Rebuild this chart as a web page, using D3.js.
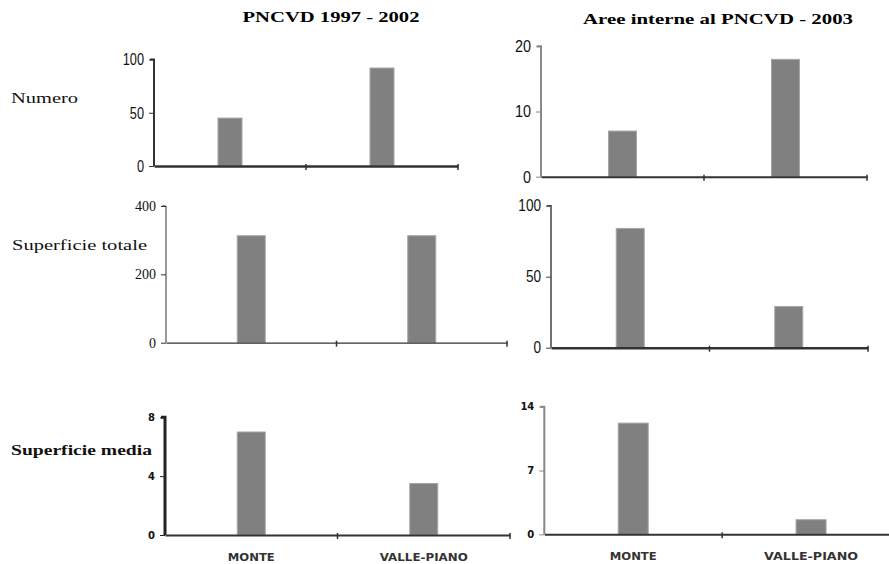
<!DOCTYPE html>
<html>
<head>
<meta charset="utf-8">
<script src="https://cdn.jsdelivr.net/npm/d3@7"></script>
<style>
  body { margin: 0; background: #fff; }
  svg { display: block; }
</style>
</head>
<body>
<div id="chart"></div>
<script>
// categories and values
const categories = ["MONTE", "VALLE-PIANO"];
const columnTitles = ["PNCVD 1997 - 2002", "Aree interne al PNCVD - 2003"];
const rowLabels = ["Numero", "Superficie totale", "Superficie media"];

const numero9702 = [45, 92];
const numero2003 = [7, 18];
const totale9702 = [313, 313];
const totale2003 = [84, 29];
const media9702 = [7, 3.5];
const media2003 = [12.2, 1.6];

const ticksNumero9702 = [0, 50, 100];
const ticksNumero2003 = [0, 10, 20];
const ticksTotale9702 = [0, 200, 400];
const ticksTotale2003 = [0, 50, 100];
const ticksMedia9702 = [0, 4, 8];
const ticksMedia2003 = [0, 7, 14];

const W = 889, H = 564;

const sans = "'Liberation Sans', Arial, sans-serif";
const serif = "'Liberation Serif', 'Times New Roman', serif";
const boldSans = "'DejaVu Sans', 'Liberation Sans', sans-serif";

// one entry per small chart; squeeze < 1 makes the tick labels narrower
const panels = [
  {values: numero9702, ticks: ticksNumero9702, x0: 154, x1: 458, y0: 166, yTop: 59.5,
   barW: 24, font: sans, fsize: 17, weight: "normal", squeeze: 0.75, yColor: "#333", yW: 2, xW: 2.5},
  {values: numero2003, ticks: ticksNumero2003, x0: 541, x1: 867, y0: 176.7, yTop: 46.3,
   barW: 28, font: sans, fsize: 17, weight: "normal", squeeze: 0.85, yColor: "#888", yW: 2, xW: 2},
  {values: totale9702, ticks: ticksTotale9702, x0: 166, x1: 507, y0: 342.7, yTop: 206,
   barW: 28, font: serif, fsize: 14, weight: "normal", squeeze: 1, yColor: "#333", yW: 1, xW: 1.2},
  {values: totale2003, ticks: ticksTotale2003, x0: 551, x1: 868, y0: 347.7, yTop: 205.7,
   barW: 28, font: sans, fsize: 16, weight: "normal", squeeze: 0.85, yColor: "#444", yW: 1.5, xW: 2.5},
  {values: media9702, ticks: ticksMedia9702, x0: 165, x1: 510, y0: 535, yTop: 417.3,
   barW: 28, font: boldSans, fsize: 10, weight: "bold", squeeze: 1, yColor: "#222", yW: 3, xW: 2},
  {values: media2003, ticks: ticksMedia2003, x0: 544.3, x1: 900, y0: 534.3, yTop: 406.7,
   barW: 30, font: boldSans, fsize: 10, weight: "bold", squeeze: 1, yColor: "#888", yW: 2, xW: 2}
];

const svg = d3.select("#chart").append("svg")
    .attr("width", W)
    .attr("height", H);

// column titles
const titles = [
  {text: columnTitles[0], x: 331, y: 22, len: 177},
  {text: columnTitles[1], x: 718, y: 24, len: 270}
];
svg.selectAll(".title")
  .data(titles)
  .enter().append("text")
    .attr("class", "title")
    .attr("x", d => d.x)
    .attr("y", d => d.y)
    .attr("text-anchor", "middle")
    .attr("textLength", d => d.len)
    .attr("lengthAdjust", "spacingAndGlyphs")
    .style("font-family", serif)
    .style("font-weight", "bold")
    .style("font-size", "15px")
    .text(d => d.text);

// row labels on the left
const rows = [
  {text: rowLabels[0], x: 11, y: 103, len: 67, weight: "normal"},
  {text: rowLabels[1], x: 12, y: 250, len: 135, weight: "normal"},
  {text: rowLabels[2], x: 11, y: 455, len: 141, weight: "bold"}
];
svg.selectAll(".rowlabel")
  .data(rows)
  .enter().append("text")
    .attr("class", "rowlabel")
    .attr("x", d => d.x)
    .attr("y", d => d.y)
    .attr("textLength", d => d.len)
    .attr("lengthAdjust", "spacingAndGlyphs")
    .style("font-family", serif)
    .style("font-weight", d => d.weight)
    .style("font-size", "15px")
    .style("fill", "#111")
    .text(d => d.text);

panels.forEach(function(p, i) {
  const g = svg.append("g").attr("class", "panel");

  const x = d3.scaleBand()
    .domain(categories)
    .range([p.x0, p.x1]);

  const y = d3.scaleLinear()
    .domain([0, d3.max(p.ticks)])
    .range([p.y0, p.yTop]);

  // bars
  g.selectAll("rect")
    .data(p.values)
    .enter().append("rect")
      .attr("x", (d, j) => x(categories[j]) + x.bandwidth() / 2 - p.barW / 2)
      .attr("y", d => y(d))
      .attr("width", p.barW)
      .attr("height", d => p.y0 - y(d))
      .style("fill", "#808080")
      .style("stroke", "#a6a6a6")
      .style("stroke-width", 1);

  // y axis
  const yAxis = g.append("g")
    .attr("transform", "translate(" + p.x0 + ",0)")
    .call(d3.axisLeft(y).tickValues(p.ticks).tickSize(5).tickPadding(5).tickFormat(d3.format("d")));
  yAxis.select(".domain")
    .attr("d", "M0," + p.y0 + "V" + p.yTop + "H-4")
    .style("stroke", p.yColor)
    .style("stroke-width", p.yW);
  yAxis.selectAll(".tick line").style("stroke", p.yColor);
  yAxis.selectAll(".tick text")
    .attr("x", -10 / p.squeeze)
    .attr("transform", "scale(" + p.squeeze + ",1)")
    .style("font-family", p.font)
    .style("font-size", p.fsize + "px")
    .style("font-weight", p.weight)
    .style("fill", "#111");

  // x axis line with ticks between categories
  const xAxis = g.append("g")
    .attr("transform", "translate(0," + p.y0 + ")")
    .call(d3.axisBottom(x).tickValues([]).tickSizeOuter(0));
  xAxis.select(".domain")
    .style("stroke", "#333")
    .style("stroke-width", p.xW);
  xAxis.selectAll(".sep")
    .data(categories)
    .enter().append("line")
      .attr("class", "sep")
      .attr("x1", d => x(d) + x.bandwidth())
      .attr("x2", d => x(d) + x.bandwidth())
      .attr("y1", -2)
      .attr("y2", 4)
      .style("stroke", "#333")
      .style("stroke-width", 1.5);

  // category names only under the bottom row
  if (i >= 4) {
    const lens = i === 4 ? [47, 88] : [47, 94];
    xAxis.selectAll(".cat")
      .data(categories)
      .enter().append("text")
        .attr("class", "cat")
        .attr("x", d => x(d) + x.bandwidth() / 2)
        .attr("y", 26)
        .attr("text-anchor", "middle")
        .attr("textLength", (d, j) => lens[j])
        .attr("lengthAdjust", "spacingAndGlyphs")
        .style("font-family", boldSans)
        .style("font-weight", "bold")
        .style("font-size", "11px")
        .style("fill", "#333")
        .text(d => d);
  }
});
</script>
</body>
</html>
